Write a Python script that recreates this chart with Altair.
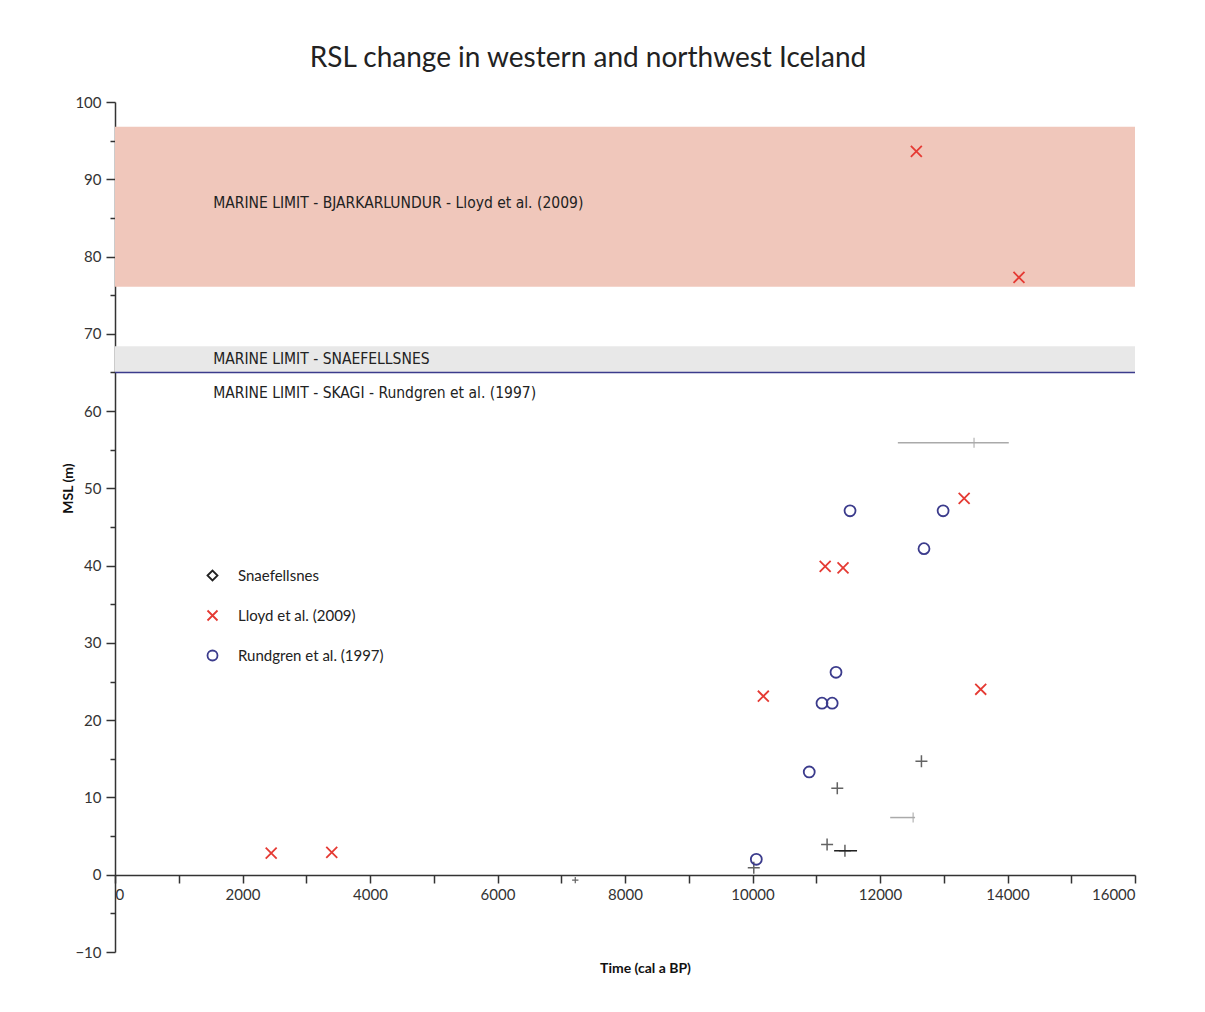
import altair as alt
import pandas as pd

# ---------------- data ----------------
lloyd_age = [2450, 3400, 10170, 11140, 11420, 13320, 13580, 12570, 14180]
lloyd_msl = [2.8, 2.9, 23.1, 39.9, 39.7, 48.7, 24.0, 93.6, 77.3]

rundgren_age = [11530, 12990, 12690, 11310, 11090, 11250, 10890, 10060]
rundgren_msl = [47.1, 47.1, 42.2, 26.2, 22.2, 22.2, 13.3, 2.0]

snae_age = [12650, 11330, 11170, 11450, 10020]
snae_msl = [14.7, 11.2, 3.9, 3.1, 0.9]
snae_age_min = [12650, 11330, 11170, 11280, 10020]
snae_age_max = [12650, 11330, 11170, 11640, 10020]

snae_minor_age = [7220]
snae_minor_msl = [-0.7]

range_age = [13475, 12520]
range_msl = [55.9, 7.4]
range_age_min = [12280, 12160]
range_age_max = [14020, 12550]

band_names = ["BJARKARLUNDUR", "SNAEFELLSNES"]
band_low = [76.1, 65.0]
band_high = [96.8, 68.4]
band_start = [0, 0]
band_end = [16000, 16000]
band_colors = ["#f0c7bb", "#e8e8e8"]

skagi_limit = [65.0]

label_texts = [
    "MARINE LIMIT - BJARKARLUNDUR - Lloyd et al. (2009)",
    "MARINE LIMIT - SNAEFELLSNES",
    "MARINE LIMIT - SKAGI - Rundgren et al. (1997)",
]
label_age = [1540, 1540, 1540]
label_msl = [86.9, 66.7, 62.3]

series_names = ["Snaefellsnes", "Lloyd et al. (2009)", "Rundgren et al. (1997)"]
series_colors = ["#222222", "#e53a33", "#3b3b8c"]
series_shapes = ["diamond", "M-1,-1L1,1M1,-1L-1,1", "circle"]

x_ticks = list(range(0, 16001, 1000))
y_major = list(range(-10, 101, 10))
y_minor = list(range(-5, 100, 10))

# ---------------- tables ----------------
bands = pd.DataFrame({"name": band_names, "low": band_low, "high": band_high,
                      "start": band_start, "end": band_end})
skagi = pd.DataFrame({"msl": skagi_limit, "start": [0], "end": [16000]})
labels = pd.DataFrame({"text": label_texts, "age": label_age, "msl": label_msl})
pts = pd.DataFrame({
    "age": lloyd_age + rundgren_age,
    "msl": lloyd_msl + rundgren_msl,
    "series": [series_names[1]] * len(lloyd_age) + [series_names[2]] * len(rundgren_age),
})
snae = pd.DataFrame({"age": snae_age, "msl": snae_msl, "lo": snae_age_min, "hi": snae_age_max})
snae_small = pd.DataFrame({"age": snae_minor_age, "msl": snae_minor_msl})
rng = pd.DataFrame({"age": range_age, "msl": range_msl, "lo": range_age_min, "hi": range_age_max})

xs = alt.Scale(domain=[0, 16000], nice=False, zero=False)
ys = alt.Scale(domain=[-10, 100], nice=False, zero=False)

FONT = "Lato"
NARROW = "Liberation Sans Narrow, DejaVu Sans Condensed, Roboto Condensed, sans-serif"
AX = "#333333"

x_axis = alt.Axis(
    values=x_ticks, format="d",
    labelExpr="datum.value % 2000 == 0 ? datum.label : ''",
    tickSize=8, tickColor=AX, domainColor=AX, domainWidth=1.5, tickWidth=1.5,
    labelFont=FONT, labelFontSize=15, labelColor=AX, labelPadding=4,
    offset=-77, grid=False,
    title="Time (cal a BP)", titleFont=FONT, titleFontSize=14, titleFontWeight="bold",
    titleColor="#111", titleX=530, titleY=86, titleBaseline="top",
)
y_axis = alt.Axis(
    values=y_major, orient="left", format="d",
    tickSize=9, tickColor=AX, domainColor=AX, domainWidth=1.5, tickWidth=1.5,
    labelFont=FONT, labelFontSize=15, labelColor=AX, labelPadding=5, grid=False,
    title="MSL (m)", titleFont=FONT, titleFontSize=14, titleFontWeight="bold",
    titleColor="#111", titleX=-40, titleY=386,
)
y_axis_minor = alt.Axis(
    values=y_minor, orient="left", tickSize=5, tickColor=AX, tickWidth=1.5,
    domain=False, labels=False, grid=False, title=None,
)


def X(field):
    return alt.X(field, scale=xs, axis=x_axis)


band_layer = alt.Chart(bands).mark_rect(opacity=1).encode(
    x=X("start:Q"),
    x2="end:Q",
    y=alt.Y("low:Q", scale=ys, axis=y_axis),
    y2="high:Q",
    fill=alt.Fill("name:N", scale=alt.Scale(domain=band_names, range=band_colors), legend=None),
)

skagi_layer = alt.Chart(skagi).mark_rule(color="#3b3b8c", strokeWidth=1.5).encode(
    x=X("start:Q"),
    x2="end:Q",
    y=alt.Y("msl:Q", scale=ys, axis=y_axis_minor),
)

label_layer = alt.Chart(labels).mark_text(
    align="left", baseline="middle", font=NARROW, fontSize=15.5, color="#222"
).encode(
    x=X("age:Q"),
    y=alt.Y("msl:Q", scale=ys, axis=None),
    text="text:N",
)

rng_bar = alt.Chart(rng).mark_rule(color="#aaaaaa", strokeWidth=1.5).encode(
    x=X("lo:Q"), x2="hi:Q",
    y=alt.Y("msl:Q", scale=ys, axis=None),
)
rng_pt = alt.Chart(rng).mark_point(
    shape="M0,-1L0,1", size=100, color="#aaaaaa", strokeWidth=1.5, filled=False
).encode(
    x=X("age:Q"),
    y=alt.Y("msl:Q", scale=ys, axis=None),
)

snae_bar = alt.Chart(snae).mark_rule(color="#222", strokeWidth=1.5).encode(
    x=X("lo:Q"), x2="hi:Q",
    y=alt.Y("msl:Q", scale=ys, axis=None),
)
snae_pt = alt.Chart(snae).mark_point(
    shape="M-1,0L1,0M0,-1L0,1", size=144, color="#222", strokeWidth=1.5, filled=False
).encode(
    x=X("age:Q"),
    y=alt.Y("msl:Q", scale=ys, axis=None),
)
snae_small_pt = alt.Chart(snae_small).mark_point(
    shape="M-1,0L1,0M0,-1L0,1", size=40, color="#222", strokeWidth=1.2, filled=False
).encode(
    x=X("age:Q"),
    y=alt.Y("msl:Q", scale=ys, axis=None),
)

leg = alt.Legend(
    title=None, orient="none", legendX=90, legendY=466,
    labelFont=FONT, labelFontSize=15, labelColor="#222",
    symbolSize=100, symbolStrokeWidth=1.8, rowPadding=21, labelOffset=18, padding=0,
)
pt_layer = alt.Chart(pts).mark_point(size=120, strokeWidth=1.8, filled=False, opacity=1).encode(
    x=X("age:Q"),
    y=alt.Y("msl:Q", scale=ys, axis=None),
    color=alt.Color("series:N", scale=alt.Scale(domain=series_names, range=series_colors), legend=leg),
    shape=alt.Shape("series:N", scale=alt.Scale(domain=series_names, range=series_shapes), legend=leg),
)

chart = alt.layer(
    band_layer, skagi_layer, label_layer, rng_bar, rng_pt, snae_bar, snae_pt, snae_small_pt, pt_layer
).resolve_axis(y="independent").properties(
    width=1020, height=850,
    background="white",
    autosize=alt.AutoSizeParams(type="none"),
    padding={"left": 107, "top": 94, "right": 62, "bottom": 52},
    title=alt.TitleParams(
        "RSL change in western and northwest Iceland",
        font=FONT, fontSize=28, fontWeight="normal", color="#222",
        anchor="middle", dx=-37, offset=22,
    ),
).configure_view(stroke=None)

chart.save("out.html", embed_options={"renderer": "svg", "actions": False})
